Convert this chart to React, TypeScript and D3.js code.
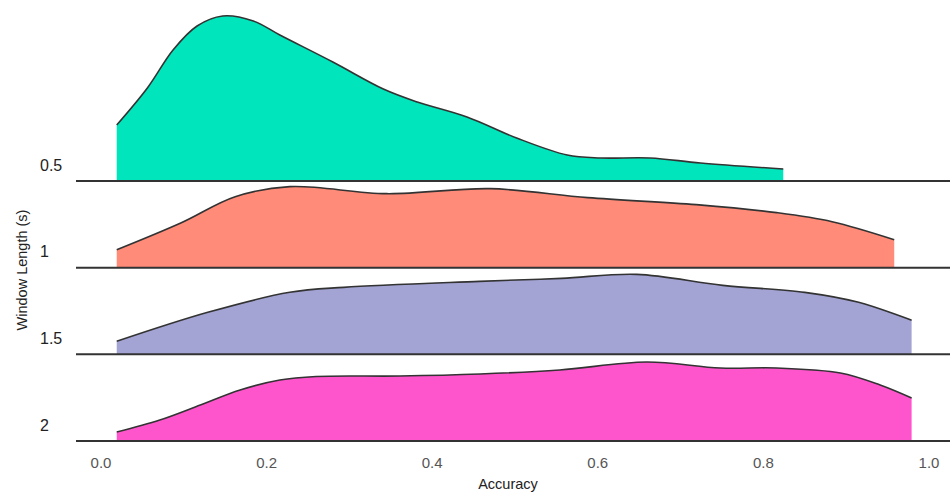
import React, {useEffect, useRef} from 'react';
import * as d3 from 'd3';

// window lengths (s), top to bottom
const windows = ['0.5', '1', '1.5', '2'];
const colors = ['#00e5bb', '#ff8b78', '#a3a3d4', '#ff55cc'];

// density curves: accuracy -> density
const acc05 = [0.019, 0.056, 0.087, 0.116, 0.147, 0.184, 0.216, 0.280, 0.341, 0.382, 0.442, 0.502, 0.563, 0.603, 0.663, 0.724, 0.824];
const den05 = [1.12, 1.86, 2.62, 3.10, 3.30, 3.20, 2.92, 2.38, 1.84, 1.58, 1.28, 0.86, 0.52, 0.46, 0.46, 0.36, 0.24];

const acc1 = [0.019, 0.097, 0.162, 0.228, 0.345, 0.470, 0.588, 0.719, 0.816, 0.883, 0.958];
const den1 = [0.36, 0.90, 1.42, 1.62, 1.48, 1.58, 1.40, 1.26, 1.10, 0.92, 0.56];

const acc15 = [0.019, 0.129, 0.228, 0.293, 0.457, 0.556, 0.647, 0.751, 0.850, 0.915, 0.979];
const den15 = [0.26, 0.84, 1.24, 1.34, 1.46, 1.52, 1.60, 1.38, 1.24, 1.04, 0.68];

const acc2 = [0.019, 0.071, 0.120, 0.168, 0.216, 0.260, 0.361, 0.458, 0.554, 0.659, 0.748, 0.816, 0.893, 0.941, 0.979];
const den2 = [0.18, 0.42, 0.72, 1.02, 1.22, 1.29, 1.30, 1.34, 1.42, 1.58, 1.46, 1.46, 1.36, 1.12, 0.86];

const xTicks = [0, 0.2, 0.4, 0.6, 0.8, 1.0];

export default function App() {
  const ref = useRef<SVGSVGElement>(null);

  useEffect(() => {
    const width = 950, height = 494;
    const svg = d3.select(ref.current);
    svg.selectAll('*').remove();

    const x = d3.scaleLinear().domain([0, 1]).range([101, 929]);
    const ridge = d3.scalePoint().domain(windows).range([181, 441]);
    const h = d3.scaleLinear().domain([0, 1]).range([0, 50]);

    const series = [
      acc05.map((a, i) => [a, den05[i]]),
      acc1.map((a, i) => [a, den1[i]]),
      acc15.map((a, i) => [a, den15[i]]),
      acc2.map((a, i) => [a, den2[i]]),
    ];

    windows.forEach((w, k) => {
      const base = ridge(w)!;
      const pts = series[k];
      const g = svg.append('g');
      const area = d3.area<number[]>()
        .x(d => x(d[0]))
        .y0(base)
        .y1(d => base - h(d[1]))
        .curve(d3.curveCatmullRom.alpha(0.5));
      const line = d3.line<number[]>()
        .x(d => x(d[0]))
        .y(d => base - h(d[1]))
        .curve(d3.curveCatmullRom.alpha(0.5));
      g.append('path').attr('d', area(pts)).attr('fill', colors[k]);
      g.append('path').attr('d', line(pts))
        .attr('fill', 'none').attr('stroke', '#333').attr('stroke-width', 1.6);
      g.append('line')
        .attr('x1', 76).attr('x2', width)
        .attr('y1', base).attr('y2', base)
        .attr('stroke', '#333').attr('stroke-width', 2);
      g.append('text')
        .attr('x', 40).attr('y', base - 16)
        .attr('dy', '0.35em')
        .attr('font-size', 16)
        .attr('fill', '#222')
        .text(w);
    });

    // x axis tick labels
    svg.append('g').selectAll('text').data(xTicks).enter().append('text')
      .attr('x', d => x(d))
      .attr('y', 463)
      .attr('dy', '0.35em')
      .attr('text-anchor', 'middle')
      .attr('font-size', 15)
      .attr('fill', '#555')
      .text(d => d.toFixed(1));

    svg.append('text')
      .attr('x', 508).attr('y', 484)
      .attr('dy', '0.35em')
      .attr('text-anchor', 'middle')
      .attr('font-size', 14.5)
      .attr('fill', '#222')
      .text('Accuracy');

    svg.append('text')
      .attr('transform', `translate(22,${270}) rotate(-90)`)
      .attr('dy', '0.35em')
      .attr('text-anchor', 'middle')
      .attr('font-size', 14.5)
      .attr('fill', '#222')
      .text('Window Length (s)');

    svg.attr('width', width).attr('height', height);
  }, []);

  return (
    <svg ref={ref} style={{position: 'absolute', left: 0, top: 0, fontFamily: 'Liberation Sans, Arial, sans-serif'}} />
  );
}
